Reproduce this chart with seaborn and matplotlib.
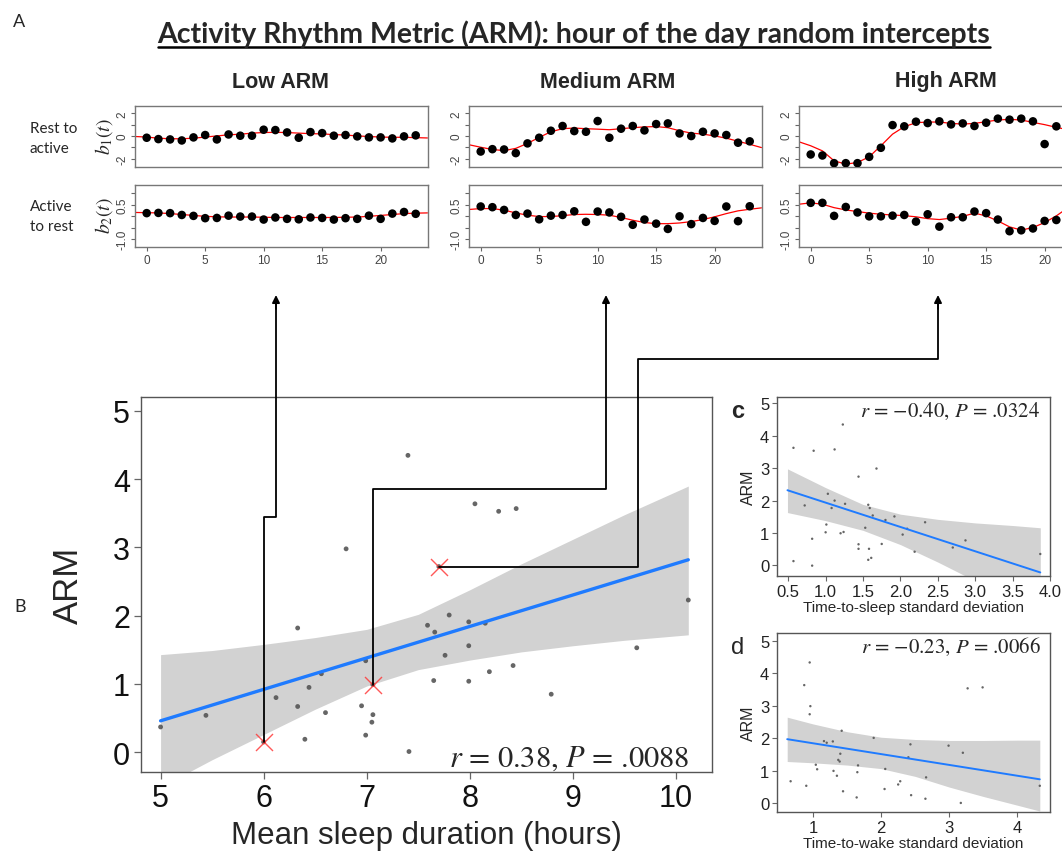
import numpy as np
import pandas as pd
import seaborn as sns
import matplotlib
matplotlib.use('Agg')  # no display
import matplotlib.pyplot as plt
from matplotlib.lines import Line2D
from matplotlib.patches import FancyArrowPatch

W, H = 1062, 853  # output size in pixels

# ---- Panel A: hourly random intercepts (points) and smooth fits (red lines)
hours = list(range(24))
fit_hours = list(range(-1, 25))

low_b1 = [-0.16, -0.28, -0.31, -0.40, -0.13, 0.08, -0.31, 0.13, 0.02, 0.02, 0.55, 0.52,
          0.31, -0.16, 0.34, 0.25, 0.02, 0.08, -0.04, -0.13, -0.13, -0.22, -0.04, 0.05]
low_b1_fit = [-0.05, -0.10, -0.20, -0.25, -0.25, -0.20, -0.10, 0.00, 0.10, 0.15, 0.25, 0.30, 0.32,
              0.30, 0.25, 0.20, 0.18, 0.12, 0.08, 0.00, -0.05, -0.10, -0.12, -0.12, -0.15, -0.18]
low_b2 = [0.14, 0.15, 0.14, 0.06, 0.02, -0.08, -0.07, 0.03, -0.01, -0.01, -0.14, -0.05,
          -0.11, -0.13, -0.05, -0.07, -0.14, -0.08, -0.11, 0.03, -0.11, 0.12, 0.19, 0.11]
low_b2_fit = [0.17, 0.16, 0.15, 0.12, 0.08, 0.04, 0.00, -0.02, -0.03, -0.03, -0.03, -0.04, -0.05,
              -0.05, -0.05, -0.05, -0.05, -0.05, -0.04, -0.03, 0.00, 0.04, 0.08, 0.12, 0.14, 0.15]

med_b1 = [-1.38, -1.17, -1.20, -1.52, -0.66, -0.16, 0.46, 0.88, 0.43, 0.37, 1.32, -0.16,
          0.64, 0.88, 0.49, 1.05, 1.11, 0.22, -0.01, 0.37, 0.22, 0.08, -0.60, -0.48]
med_b1_fit = [-0.78, -1.00, -1.20, -1.30, -1.10, -0.66, -0.13, 0.37, 0.64, 0.70, 0.64, 0.60, 0.55,
              0.64, 0.73, 0.80, 0.83, 0.73, 0.46, 0.25, 0.16, 0.00, -0.20, -0.47, -0.74, -1.03]
med_b2 = [0.43, 0.40, 0.28, 0.06, 0.12, -0.13, 0.03, 0.06, 0.22, -0.24, 0.21, 0.17,
          -0.02, -0.37, -0.14, -0.32, -0.55, 0.00, -0.34, -0.07, -0.20, 0.43, -0.21, 0.44]
med_b2_fit = [0.30, 0.34, 0.34, 0.27, 0.15, 0.05, -0.01, -0.01, 0.03, 0.08, 0.09, 0.08, 0.05,
              -0.05, -0.17, -0.27, -0.32, -0.32, -0.29, -0.23, -0.14, -0.02, 0.12, 0.24, 0.31, 0.37]

high_b1 = [-1.64, -1.73, -2.41, -2.41, -2.41, -1.85, -1.05, 0.96, 0.85, 1.26, 1.14, 1.29,
           1.02, 1.11, 0.88, 1.17, 1.53, 1.44, 1.53, 1.29, -0.72, 0.85, 0.60, 0.20]
high_b1_fit = [-0.52, -0.87, -1.32, -2.20, -2.50, -2.35, -1.85, -0.87, 0.16, 0.82, 1.17, 1.23, 1.23,
               1.11, 1.05, 1.11, 1.26, 1.41, 1.47, 1.41, 1.20, 1.00, 0.76, 0.55, 0.31, 0.10]
high_b2 = [0.59, 0.59, 0.02, 0.41, 0.17, 0.00, 0.00, 0.03, 0.06, -0.23, 0.09, -0.45,
           -0.04, -0.04, 0.21, 0.14, -0.14, -0.65, -0.61, -0.53, -0.20, -0.16, 0.10, 0.40]
high_b2_fit = [0.53, 0.59, 0.53, 0.38, 0.28, 0.21, 0.14, 0.09, 0.06, 0.03, -0.02, -0.10, -0.14,
               -0.08, 0.00, 0.14, 0.02, -0.20, -0.46, -0.60, -0.49, -0.27, 0.02, 0.38, 0.60, 0.70]

group_names = ['Low ARM', 'Medium ARM', 'High ARM']

# ---- Panel B: mean sleep duration vs ARM
sleep_hours = [5.00, 5.44, 6.12, 6.33, 6.33, 6.40, 6.44, 6.56, 6.60, 6.80, 6.95, 6.99, 6.99,
               7.05, 7.06, 7.40, 7.41, 7.59, 7.65, 7.66, 7.76, 7.80, 7.99, 7.99, 7.99, 8.05,
               8.15, 8.19, 8.28, 8.42, 8.45, 8.79, 9.62, 10.12]
sleep_arm = [0.37, 0.54, 0.80, 1.82, 0.67, 0.19, 0.95, 1.15, 0.58, 2.98, 0.68, 1.34, 0.25,
             0.44, 0.55, 4.35, 0.01, 1.86, 1.05, 1.76, 1.42, 2.01, 1.91, 1.56, 1.04, 3.64,
             1.89, 1.18, 3.53, 1.27, 3.57, 0.85, 1.53, 2.23]
# the three example participants (Low, Medium, High ARM)
example_hours = [6.00, 7.06, 7.70]
example_arm = [0.15, 0.99, 2.72]
# fitted line and 95% band as drawn in the figure
sleep_fit_x = [5.00, 10.12]
sleep_fit_y = [0.46, 2.82]
sleep_band_x = [5.0, 5.5, 6.0, 6.5, 7.0, 7.5, 8.0, 8.5, 9.0, 9.5, 10.12]
sleep_band_lo = [-0.51, -0.11, 0.26, 0.63, 0.97, 1.21, 1.35, 1.47, 1.56, 1.64, 1.72]
sleep_band_hi = [1.43, 1.49, 1.58, 1.68, 1.80, 2.02, 2.38, 2.76, 3.12, 3.48, 3.90]

# ---- Panel c: time-to-sleep SD vs ARM
sleep_sd = [0.57, 0.84, 1.12, 1.23, 1.68, 1.44, 0.72, 1.03, 1.12, 1.08, 1.26, 1.57, 1.59,
            1.63, 1.80, 1.92, 1.01, 1.00, 1.20, 1.24, 1.53, 2.03, 2.09, 2.33, 0.82, 1.44,
            1.44, 1.58, 1.75, 1.57, 1.61, 2.19, 2.70, 2.87, 0.57, 0.82, 3.87]
sleep_sd_arm = [3.63, 3.54, 3.58, 4.35, 2.99, 2.74, 1.85, 2.21, 2.00, 1.77, 1.90, 1.87, 1.77,
                1.54, 1.40, 1.51, 1.26, 1.02, 0.99, 1.03, 1.16, 0.95, 1.13, 1.33, 0.82, 0.65,
                0.51, 0.51, 0.66, 0.17, 0.23, 0.42, 0.55, 0.77, 0.13, -0.01, 0.35]
sleep_sd_fit_x = [0.49, 3.87]
sleep_sd_fit_y = [2.32, -0.22]
sleep_sd_band_x = [0.49, 1.0, 1.5, 2.0, 2.5, 3.0, 3.5, 3.87]
sleep_sd_band_lo = [1.63, 1.38, 1.08, 0.64, 0.10, -0.48, -1.10, -1.55]
sleep_sd_band_hi = [2.98, 2.40, 1.88, 1.58, 1.42, 1.31, 1.23, 1.16]

# ---- Panel d: time-to-wake SD vs ARM
wake_sd = [0.95, 0.87, 0.96, 0.95, 3.27, 3.49, 1.42, 1.89, 1.16, 1.20, 1.29, 2.43, 2.99,
           3.20, 1.40, 1.37, 1.39, 2.40, 1.04, 1.66, 1.06, 2.06, 1.30, 1.65, 1.35, 2.66,
           0.67, 2.28, 2.25, 0.90, 1.44, 2.05, 2.44, 1.64, 2.65, 3.17, 4.33]
wake_sd_arm = [4.34, 3.64, 2.99, 2.74, 3.54, 3.57, 2.23, 2.01, 1.91, 1.86, 1.90, 1.81, 1.77,
               1.55, 1.52, 1.33, 1.28, 1.41, 1.18, 1.16, 1.04, 1.05, 0.99, 0.95, 0.84, 0.79,
               0.67, 0.67, 0.57, 0.53, 0.36, 0.43, 0.24, 0.17, 0.13, 0.00, 0.53]
wake_sd_fit_x = [0.62, 4.33]
wake_sd_fit_y = [1.97, 0.73]
wake_sd_band_x = [0.62, 1.0, 1.5, 2.0, 2.5, 3.0, 3.5, 4.0, 4.33]
wake_sd_band_lo = [1.28, 1.24, 1.17, 1.06, 0.82, 0.49, 0.20, -0.07, -0.25]
wake_sd_band_hi = [2.65, 2.44, 2.20, 2.03, 1.96, 1.93, 1.93, 1.94, 1.94]

LINE_BLUE = '#1f7bff'
BAND_GREY = '#d2d2d2'
FRAME = '#555555'
SERIF = ['STIXGeneral', 'DejaVu Serif']

sns.set_style('ticks')
plt.rcParams['font.family'] = ['Liberation Sans', 'DejaVu Sans']
plt.rcParams['mathtext.fontset'] = 'stix'


def px_axes(fig, left, top, right, bottom):
    """Add axes given pixel edges measured from the top-left corner."""
    return fig.add_axes([left / W, 1 - bottom / H, (right - left) / W, (bottom - top) / H])


def fx(x):
    return x / W


def fy(y):
    return 1 - y / H


def style_frame(ax, color=FRAME, lw=1.0):
    for s in ax.spines.values():
        s.set_visible(True)
        s.set_color(color)
        s.set_linewidth(lw)


def small_panel(ax, pts, fit, ylim, yticks, ylabels, show_x):
    sns.lineplot(x=fit_hours, y=fit, color='red', lw=0.9, ax=ax)
    sns.scatterplot(x=hours, y=pts, color='black', s=38, edgecolor='none', ax=ax, zorder=3)
    ax.set_xlim(-1.0, 24.05)
    ax.set_ylim(*ylim)
    ax.set_yticks(yticks)
    ax.set_yticklabels(ylabels, rotation=90, va='center')
    ax.set_xticks([0, 5, 10, 15, 20])
    if not show_x:
        ax.tick_params(axis='x', bottom=False, labelbottom=False)
    ax.tick_params(length=3, width=0.8, color='#666666', labelsize=8.5, labelcolor='#444444', pad=2)
    ax.set_xlabel('')
    ax.set_ylabel('')
    style_frame(ax, '#777777', 1.0)


def reg_panel(ax, x, y, fit_x, fit_y, band_x, band_lo, band_hi, point_size, lw):
    ax.fill_between(band_x, band_lo, band_hi, color=BAND_GREY, lw=0, zorder=1)
    sns.scatterplot(x=x, y=y, ax=ax, color='#555555', s=point_size, edgecolor='none',
                    alpha=0.9, zorder=3)
    sns.lineplot(x=fit_x, y=fit_y, ax=ax, color=LINE_BLUE, lw=lw, zorder=4)
    ax.set_xlabel('')
    ax.set_ylabel('')


fig = plt.figure(figsize=(W / 100, H / 100), dpi=100)

# ---------------- Panel A ----------------
fig.text(fx(13), fy(22), 'A', fontsize=13, family=['Lato', 'DejaVu Sans'], va='center')
title = fig.text(fx(574), fy(34), 'Activity Rhythm Metric (ARM): hour of the day random intercepts',
                 fontsize=20.5, fontweight='bold', family=['Lato', 'DejaVu Sans'],
                 ha='center', va='center')
renderer = fig.canvas.get_renderer()
bb = title.get_window_extent(renderer).transformed(fig.transFigure.inverted())
fig.add_artist(Line2D([bb.x0, bb.x1], [fy(48), fy(48)], color='black', lw=1.8))

panel_lefts = [135, 469, 799]
header_x = [281, 608, 946]
series = [(low_b1, low_b1_fit, low_b2, low_b2_fit),
          (med_b1, med_b1_fit, med_b2, med_b2_fit),
          (high_b1, high_b1_fit, high_b2, high_b2_fit)]
for name, left, hx, (b1, b1_fit, b2, b2_fit) in zip(group_names, panel_lefts, header_x, series):
    fig.text(fx(hx), fy(82), name, fontsize=15.5, fontweight='bold', ha='center', va='center')
    ax_top = px_axes(fig, left, 107, left + 293, 168)
    small_panel(ax_top, b1, b1_fit, (-2.75, 2.65), [-2, -1, 0, 1, 2], ['-2', '', '0', '', '2'], False)
    ax_bot = px_axes(fig, left, 186, left + 293, 248)
    small_panel(ax_bot, b2, b2_fit, (-1.34, 1.37), [-1.0, -0.5, 0.0, 0.5, 1.0],
                ['-1.0', '', '', '0.5', ''], True)

fig.text(fx(30), fy(139), 'Rest to\nactive', fontsize=11, family=['Lato', 'DejaVu Sans'],
         va='center', ha='left', linespacing=1.5)
fig.text(fx(30), fy(217), 'Active\nto rest', fontsize=11, family=['Lato', 'DejaVu Sans'],
         va='center', ha='left', linespacing=1.5)
fig.text(fx(104), fy(137), r'$b_1(t)$', fontsize=14, rotation=90, ha='center', va='center')
fig.text(fx(104), fy(216), r'$b_2(t)$', fontsize=14, rotation=90, ha='center', va='center')

# ---------------- Panel B ----------------
ax_b = px_axes(fig, 141, 398, 712, 773)
reg_panel(ax_b, sleep_hours + example_hours, sleep_arm + example_arm,
          sleep_fit_x, sleep_fit_y, sleep_band_x, sleep_band_lo, sleep_band_hi, 12, 2.4)
ax_b.scatter(example_hours, example_arm, marker='x', s=150, color='#ff3b3b', linewidths=1.0,
             alpha=0.85, zorder=5)
ax_b.set_xlim(4.81, 10.35)
ax_b.set_ylim(-0.29, 5.205)
ax_b.set_xticks([5, 6, 7, 8, 9, 10])
ax_b.set_yticks([0, 1, 2, 3, 4, 5])
ax_b.tick_params(length=5, width=0.9, color='#666666', labelsize=22, labelcolor='#111111', pad=3)
ax_b.set_xlabel('Mean sleep duration (hours)', fontsize=22.5, labelpad=5)
ax_b.set_ylabel('ARM', fontsize=25, labelpad=20)
style_frame(ax_b, '#555555', 1.0)
ax_b.text(0.961, 0.016, r'$r$ = 0.38, $P$ = .0088', transform=ax_b.transAxes, ha='right',
          va='baseline', fontsize=22, family=SERIF)
fig.text(fx(14), fy(607), 'B', fontsize=13, family=['Lato', 'DejaVu Sans'], va='center')

# connectors from the example participants to the panel A columns
to_fig = ax_b.transData + fig.transFigure.inverted()
starts = [to_fig.transform((x, y)) for x, y in zip(example_hours, example_arm)]
paths = [
    [(None, 518), (276, 518), (276, None)],
    [(None, 490), (606, 490), (606, None)],
    [(637.7, None), (637.7, 360), (938, 360), (938, None)],
]
for (sx, sy), path in zip(starts, paths):
    xs, ys = [sx], [sy]
    for px, py in path:
        xs.append(fx(px) if px is not None else xs[-1])
        ys.append(fy(py) if py is not None else ys[-1])
    tip = (xs[-1], fy(296))
    fig.add_artist(Line2D(xs + [tip[0]], ys + [fy(305)], color='black', lw=1.3,
                          transform=fig.transFigure))
    fig.add_artist(FancyArrowPatch((xs[-1], fy(310)), tip, transform=fig.transFigure,
                                   arrowstyle='-|>', mutation_scale=11, color='black', lw=1.3,
                                   shrinkA=0, shrinkB=0))

# ---------------- Panels c and d ----------------
small_panels = [
    (398, 577, sleep_sd, sleep_sd_arm, sleep_sd_fit_x, sleep_sd_fit_y, sleep_sd_band_x,
     sleep_sd_band_lo, sleep_sd_band_hi, (0.35, 4.0), [0.5, 1.0, 1.5, 2.0, 2.5, 3.0, 3.5, 4.0],
     'Time-to-sleep standard deviation', '$r$ = \u22120.40, $P$ = .0324', 'c', 'bold', (-0.33, 5.2)),
    (634, 813, wake_sd, wake_sd_arm, wake_sd_fit_x, wake_sd_fit_y, wake_sd_band_x,
     wake_sd_band_lo, wake_sd_band_hi, (0.47, 4.48), [1, 2, 3, 4],
     'Time-to-wake standard deviation', '$r$ = \u22120.23, $P$ = .0066', 'd', 'normal', (-0.28, 5.25)),
]
for (top, bottom, x, y, fit_x, fit_y, band_x, band_lo, band_hi, xlim, xticks, xlabel, note,
     letter, weight, ylim) in small_panels:
    ax = px_axes(fig, 777, top, 1050, bottom)
    reg_panel(ax, x, y, fit_x, fit_y, band_x, band_lo, band_hi, 3, 1.4)
    ax.set_xlim(*xlim)
    ax.set_ylim(*ylim)
    ax.set_xticks(xticks)
    if letter == 'c':
        ax.set_xticklabels([f'{v:.1f}' for v in xticks])
    ax.set_yticks([0, 1, 2, 3, 4, 5])
    ax.tick_params(length=3.5, width=0.8, color='#666666', labelsize=12, labelcolor='#222222',
                   pad=2)
    ax.set_xlabel(xlabel, fontsize=11, labelpad=1)
    ax.set_ylabel('ARM', fontsize=11.5, labelpad=3)
    style_frame(ax, '#555555', 1.0)
    ax.text(0.965, 0.925, note, transform=ax.transAxes, ha='right', va='center', fontsize=15,
            family=SERIF)
    fig.text(fx(731), fy(top + 14), letter, fontsize=17, fontweight=weight, va='center')

fig.savefig('out.png', dpi=100)
